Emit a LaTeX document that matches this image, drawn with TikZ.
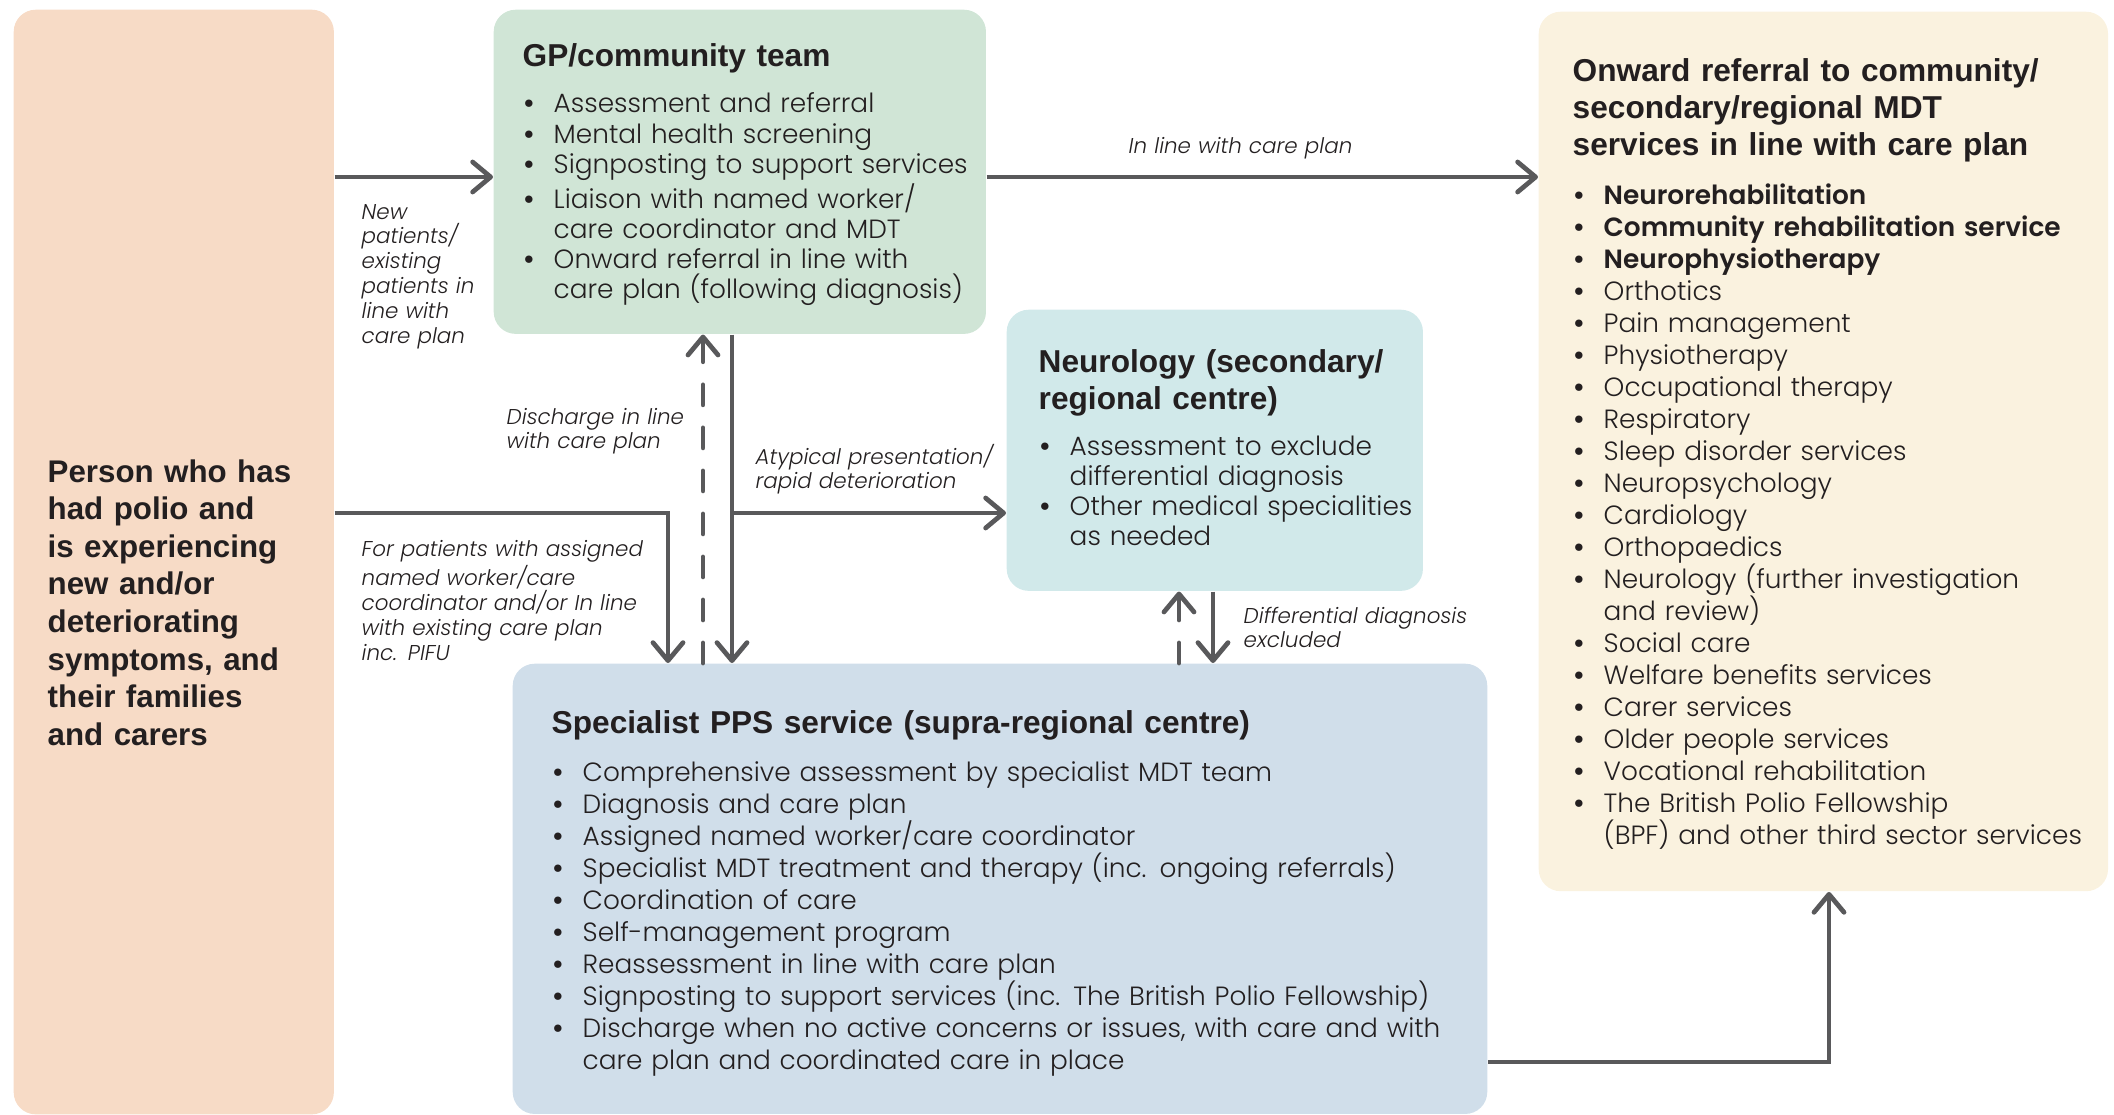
\documentclass[tikz,border=0pt]{standalone}
\usepackage{fontspec}
\setmainfont{Poppins}[UprightFont=* Light, ItalicFont=* Light Italic, BoldFont=* SemiBold]
\newfontfamily\headfont{Liberation Sans}
\usetikzlibrary{arrows.meta}
\definecolor{peach}{HTML}{F7DBC6}
\definecolor{gpgreen}{HTML}{D0E5D6}
\definecolor{neurocyan}{HTML}{D1E9EA}
\definecolor{ppsblue}{HTML}{D0DEEA}
\definecolor{cream}{HTML}{FAF2DF}
\definecolor{arrowgray}{HTML}{59595B}
\definecolor{ink}{HTML}{231F20}
\setlength\lineskiplimit{-5pt}
\newcommand\bul{\hangindent=0.31cm\hangafter=1\noindent\makebox[0.31cm][l]{\textbf{\textbullet}}}
\tikzset{
  box/.style={anchor=north west, inner sep=0pt, rounded corners=0.22cm},
  head/.style={anchor=base west, inner sep=0pt, align=left, text width=6.5cm, text=ink,
    font=\headfont\bfseries\fontsize{9}{10.6}\selectfont},
  items/.style={anchor=base west, inner sep=0pt, align=left, text width=9.5cm, text=ink,
    font=\fontsize{7.5}{8.54}\selectfont},
  wideitems/.style={items, font=\fontsize{7.5}{9.1}\selectfont},
  note/.style={anchor=base west, inner sep=0pt, align=left, text width=4cm, text=ink,
    font=\itshape\fontsize{6.1}{7.1}\selectfont},
  arr/.style={draw=arrowgray, line width=1.35pt, -{Straight Barb[length=1.8mm,width=3mm,round]}},
  back/.style={arr, dash pattern=on 0.2cm off 0.23cm, line cap=round}
}
\begin{document}
\begin{tikzpicture}[x=0.01cm, y=-0.01cm]
  \useasboundingbox (0,0) rectangle (2114,1115);
  \node[box, fill=peach, minimum width=3.20cm, minimum height=11.04cm] (person) at (13,9) {};
  \node[box, fill=gpgreen, minimum width=4.92cm, minimum height=3.24cm] (gp) at (493,9) {};
  \node[box, fill=neurocyan, minimum width=4.16cm, minimum height=2.81cm] (neuro) at (1006,309) {};
  \node[box, fill=ppsblue, minimum width=9.74cm, minimum height=4.50cm] (pps) at (512,663) {};
  \node[box, fill=cream, minimum width=5.69cm, minimum height=8.79cm] (onward) at (1538,11) {};

  \node[head, font=\headfont\bfseries\fontsize{8.9}{10.7}\selectfont] (persontxt) at (47,482)
    {Person who has\\had polio and\\is experiencing\\new and/or\\deteriorating\\symptoms, and\\their families\\and carers};
  \node[head] (gphead) at (522,67) {GP/community team};
  \node[items] (gplist) at (522,113)
    {\bul Assessment and referral
     \par\bul Mental health screening
     \par\bul Signposting to support services
     \par\bul Liaison with named worker/\newline care coordinator and MDT
     \par\bul Onward referral in line with\newline care plan (following diagnosis)\par};
  \node[head] (neurohead) at (1038,372) {Neurology (secondary/\\regional centre)};
  \node[items, font=\fontsize{7.5}{8.6}\selectfont] (neurolist) at (1038,455)
    {\bul Assessment to exclude\newline differential diagnosis
     \par\bul Other medical specialities\newline as needed\par};
  \node[head, text width=9cm] (ppshead) at (551,733) {Specialist PPS service (supra-regional centre)};
  \node[wideitems] (ppslist) at (551,781)
    {\bul Comprehensive assessment by specialist MDT team
     \par\bul Diagnosis and care plan
     \par\bul Assigned named worker/care coordinator
     \par\bul Specialist MDT treatment and therapy (inc. ongoing referrals)
     \par\bul Coordination of care
     \par\bul Self-management program
     \par\bul Reassessment in line with care plan
     \par\bul Signposting to support services (inc. The British Polio Fellowship)
     \par\bul Discharge when no active concerns or issues, with care and with\newline care plan and coordinated care in place\par};
  \node[head] (onwardhead) at (1572,81)
    {Onward referral to community/\\secondary/regional MDT\\services in line with care plan};
  \node[wideitems] (onwardlist) at (1572,204)
    {\bul \textbf{Neurorehabilitation}
     \par\bul \textbf{Community rehabilitation service}
     \par\bul \textbf{Neurophysiotherapy}
     \par\bul Orthotics
     \par\bul Pain management
     \par\bul Physiotherapy
     \par\bul Occupational therapy
     \par\bul Respiratory
     \par\bul Sleep disorder services
     \par\bul Neuropsychology
     \par\bul Cardiology
     \par\bul Orthopaedics
     \par\bul Neurology (further investigation\newline and review)
     \par\bul Social care
     \par\bul Welfare benefits services
     \par\bul Carer services
     \par\bul Older people services
     \par\bul Vocational rehabilitation
     \par\bul The British Polio Fellowship\newline (BPF) and other third sector services\par};

  \node[note] (newlbl) at (361,219) {New\\patients/\\existing\\patients in\\line with\\care plan};
  \node[note] (planlbl) at (1128,153) {In line with care plan};
  \node[note] (dischlbl) at (506,424) {Discharge in line\\with care plan};
  \node[note] (atyplbl) at (755,464) {Atypical presentation/\\rapid deterioration};
  \node[note] (assignlbl) at (361,556)
    {For patients with assigned\\named worker/care\\coordinator and/or In line\\with existing care plan\\inc. PIFU};
  \node[note] (difflbl) at (1243,623) {Differential diagnosis\\excluded};

  \coordinate (r1) at (0,177);
  \coordinate (j1) at (668,513);
  \coordinate (j2) at (703,0);
  \coordinate (j3) at (732,0);
  \coordinate (j4) at (1179,0);
  \coordinate (j5) at (1213,0);
  \coordinate (j6) at (1829,1062);
  \draw[arr] (person.east |- r1) -- (gp.west |- r1);
  \draw[arr] (gp.east |- r1) -- (onward.west |- r1);
  \draw[arr] (person.east |- j1) -| (pps.north -| j1);
  \draw[back] (pps.north -| j2) -- (gp.south -| j2);
  \draw[arr] (gp.south -| j3) -- (pps.north -| j3);
  \draw[arr] (j3 |- j1) -- (neuro.west |- j1);
  \draw[back] (pps.north -| j4) -- (neuro.south -| j4);
  \draw[arr] (neuro.south -| j5) -- (pps.north -| j5);
  \draw[arr] (pps.east |- j6) -| (onward.south -| j6);
\end{tikzpicture}
\end{document}
